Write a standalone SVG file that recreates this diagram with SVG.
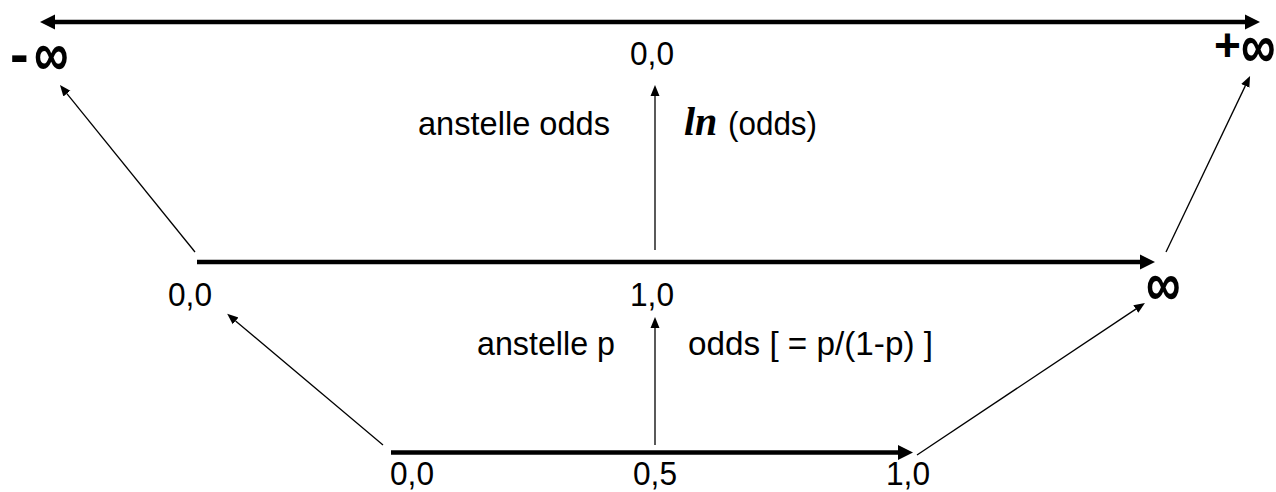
<svg xmlns="http://www.w3.org/2000/svg" width="1276" height="492" viewBox="0 0 1276 492">
<style>
.t{font-family:"Liberation Sans",Arial,sans-serif;font-size:33px;fill:#000}
.b{font-family:"Liberation Sans",Arial,sans-serif;font-size:46px;font-weight:bold;fill:#000}
.m{font-family:"Liberation Sans",Arial,sans-serif;font-size:56px;font-weight:bold;fill:#000}
.ln{font-family:"Liberation Serif","Times New Roman",serif;font-size:40px;font-weight:bold;font-style:italic;fill:#000}
.thick{stroke:#000;stroke-width:4.5;fill:none}
.thin{stroke:#000;stroke-width:1.3;fill:none}
</style>
<defs>
<marker id="hb" markerUnits="userSpaceOnUse" markerWidth="16" markerHeight="16" viewBox="0 -8 16 16" refX="0" refY="0" orient="auto-start-reverse">
<path d="M0,-7.5 L15,0 L0,7.5 z" fill="#000"/>
</marker>
<marker id="hs" markerUnits="userSpaceOnUse" markerWidth="12" markerHeight="12" viewBox="0 -6 12 12" refX="0" refY="0" orient="auto">
<path d="M0,-4.5 L11,0 L0,4.5 z" fill="#000"/>
</marker>
</defs>
<g id="connectors">
<path class="thick" d="M55,22 L1245,22" marker-start="url(#hb)" marker-end="url(#hb)"/>
<path class="thick" d="M197,262 L1140,262" marker-end="url(#hb)"/>
<path class="thick" d="M391,452.5 L898,452.5" marker-end="url(#hb)"/>
<path class="thin" d="M195,252 L66.9,93.6" marker-end="url(#hs)"/>
<path class="thin" d="M1166,252 L1245.3,85.9" marker-end="url(#hs)"/>
<path class="thin" d="M655,250 L655,96" marker-end="url(#hs)"/>
<path class="thin" d="M383,445 L235.6,320.9" marker-end="url(#hs)"/>
<path class="thin" d="M917,455 L1135.8,309.1" marker-end="url(#hs)"/>
<path class="thin" d="M655,445 L655,328" marker-end="url(#hs)"/>
</g>
<g id="neg-inf"><text class="m" x="10" y="73">-</text><text class="b" transform="translate(34,76) scale(1.05,1.4)">∞</text></g>
<g id="pos-inf"><text class="b" x="1214" y="61">+</text><text class="b" transform="translate(1241,68) scale(1.05,1.4)">∞</text></g>
<g id="top-zero"><text class="t" x="652" y="65" text-anchor="middle" textLength="44" lengthAdjust="spacingAndGlyphs">0,0</text></g>
<g id="label-ln"><text class="t" x="418" y="135" textLength="192" lengthAdjust="spacingAndGlyphs">anstelle odds</text>
<text class="ln" x="684" y="135">ln</text><text class="t" x="728" y="135" textLength="89" lengthAdjust="spacingAndGlyphs">(odds)</text></g>
<g id="mid-zero"><text class="t" x="190" y="306" text-anchor="middle" textLength="44" lengthAdjust="spacingAndGlyphs">0,0</text></g>
<g id="mid-one"><text class="t" x="652" y="306" text-anchor="middle" textLength="44" lengthAdjust="spacingAndGlyphs">1,0</text></g>
<g id="mid-inf"><text class="b" transform="translate(1146,306) scale(1.05,1.4)">∞</text></g>
<g id="label-odds"><text class="t" x="477" y="355" textLength="138" lengthAdjust="spacingAndGlyphs">anstelle p</text>
<text class="t" x="688" y="355" textLength="245" lengthAdjust="spacingAndGlyphs">odds [ = p/(1-p) ]</text></g>
<g id="bot-labels"><text class="t" x="412" y="485" text-anchor="middle" textLength="44" lengthAdjust="spacingAndGlyphs">0,0</text>
<text class="t" x="655" y="485" text-anchor="middle" textLength="44" lengthAdjust="spacingAndGlyphs">0,5</text>
<text class="t" x="908" y="485" text-anchor="middle" textLength="44" lengthAdjust="spacingAndGlyphs">1,0</text></g>
</svg>
